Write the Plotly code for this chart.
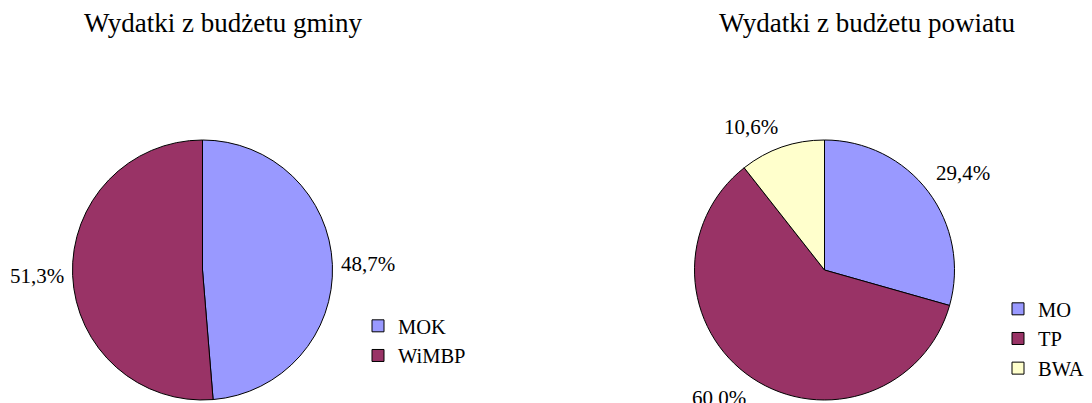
import math
import plotly.graph_objects as go

# ---- data ----
gmina_labels = ["MOK", "WiMBP"]
gmina_values = [48.7, 51.3]
gmina_title = "Wydatki z budżetu gminy"

powiat_labels = ["MO", "TP", "BWA"]
powiat_values = [29.4, 60.0, 10.6]
powiat_title = "Wydatki z budżetu powiatu"

colors_gmina = ["#9999FF", "#993366"]
colors_powiat = ["#9999FF", "#993366", "#FFFFCC"]

# ---- layout constants (pixels, in screenshot coordinates) ----
W, H = 1092, 403
OFF = 8  # page body margin
FONT = "Liberation Serif, Times New Roman, serif"
R = 130
CY = 270
CX_LEFT = 202.5
CX_RIGHT = 824.5
LABEL_GAP = 7


def px_to_paper(x, y):
    return (x - OFF) / W, 1 - (y - OFF) / H


def domain(cx, cy, r):
    x0, y1 = px_to_paper(cx - r, cy - r)
    x1, y0 = px_to_paper(cx + r, cy + r)
    return dict(x=[x0, x1], y=[y0, y1])


def fmt(v):
    return f"{v:.1f}".replace(".", ",") + "%"


def slice_labels(values, cx, cy, r):
    total = sum(values)
    anns = []
    start = 0.0
    for v in values:
        frac = v / total
        mid = (start + frac / 2) * 2 * math.pi
        start += frac
        s, c = math.sin(mid), math.cos(mid)
        px = cx + (r + LABEL_GAP) * s
        py = cy - (r + LABEL_GAP) * c
        xa = "left" if s > 0.3 else ("right" if s < -0.3 else "center")
        ya = "bottom" if c > 0.3 else ("top" if c < -0.3 else "middle")
        x, y = px_to_paper(px, py)
        anns.append(dict(x=x, y=y, xref="paper", yref="paper", text=fmt(v),
                         showarrow=False, xanchor=xa, yanchor=ya,
                         font=dict(family=FONT, size=21, color="black")))
    return anns


fig = go.Figure()
fig.add_trace(go.Pie(
    labels=gmina_labels, values=gmina_values, sort=False, direction="clockwise",
    rotation=0, textinfo="none", hoverinfo="label+percent",
    marker=dict(colors=colors_gmina, line=dict(color="black", width=1)),
    domain=domain(CX_LEFT, CY, R), legend="legend",
))
fig.add_trace(go.Pie(
    labels=powiat_labels, values=powiat_values, sort=False, direction="clockwise",
    rotation=0, textinfo="none", hoverinfo="label+percent",
    marker=dict(colors=colors_powiat, line=dict(color="black", width=1)),
    domain=domain(CX_RIGHT, CY, R), legend="legend2",
))

annotations = []
annotations += slice_labels(gmina_values, CX_LEFT, CY, R)
annotations += slice_labels(powiat_values, CX_RIGHT, CY, R)

tx, ty = px_to_paper(223.5, 23)
annotations.append(dict(x=tx, y=ty, xref="paper", yref="paper", text=gmina_title,
                        showarrow=False, xanchor="center", yanchor="middle",
                        font=dict(family=FONT, size=27, color="black")))
tx, ty = px_to_paper(867.5, 23)
annotations.append(dict(x=tx, y=ty, xref="paper", yref="paper", text=powiat_title,
                        showarrow=False, xanchor="center", yanchor="middle",
                        font=dict(family=FONT, size=27, color="black")))

lx1, ly1 = px_to_paper(358, 306)
lx2, ly2 = px_to_paper(998, 289)
legend_font = dict(family=FONT, size=20.5, color="black")

fig.update_layout(
    width=W, height=H,
    margin=dict(l=0, r=0, t=0, b=0),
    paper_bgcolor="white", plot_bgcolor="white",
    font=dict(family=FONT, color="black"),
    annotations=annotations,
    legend=dict(x=lx1, y=ly1, xanchor="left", yanchor="top", font=legend_font,
                bgcolor="rgba(0,0,0,0)", traceorder="normal"),
    legend2=dict(x=lx2, y=ly2, xanchor="left", yanchor="top", font=legend_font,
                 bgcolor="rgba(0,0,0,0)", traceorder="normal"),
)

fig.write_html("out.html")
